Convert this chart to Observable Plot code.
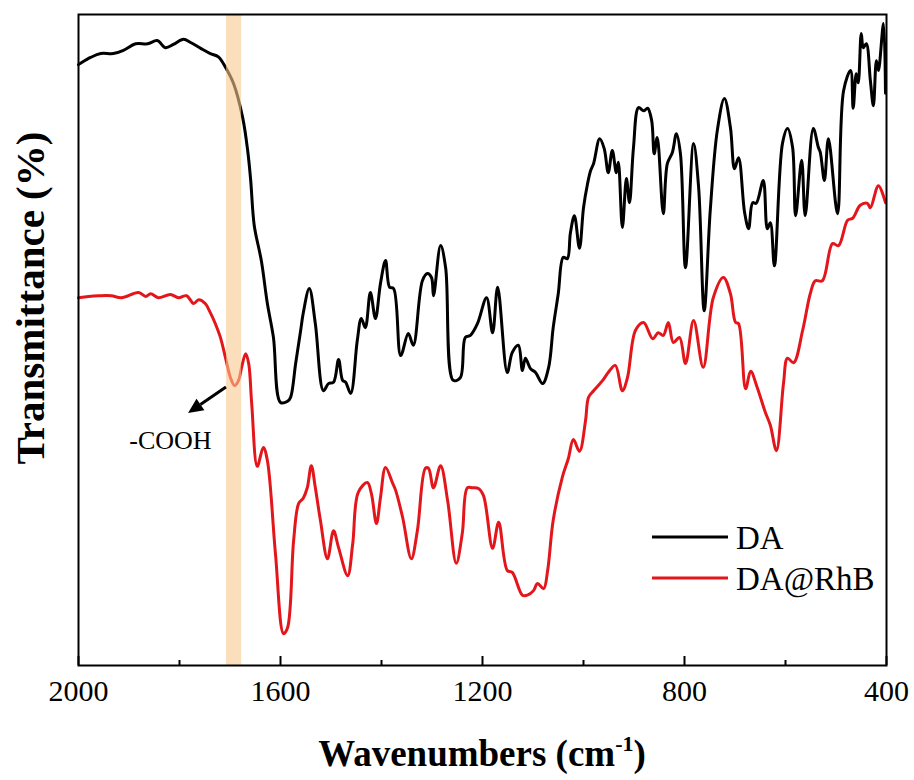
<!DOCTYPE html>
<html><head><meta charset="utf-8">
<script src="https://cdn.jsdelivr.net/npm/d3@7"></script>
<script src="https://cdn.jsdelivr.net/npm/@observablehq/plot@0.6"></script>
<style>
body{margin:0;background:#fff;}
#wrap{width:914px;height:780px;}
</style></head><body><div id="wrap"></div>
<script>
// ---- data ----
const seriesNames = ["DA", "DA@RhB"];
const seriesColors = ["#000000", "#e3161b"];

const daWavenumber = [2000,1996,1976,1956,1931,1911,1887,1863,1844,1828,1812,1792,1778,1758,1739,1723,1709,1693,1675,1665,1659,1652,1638,1626,1614,1600,1586,1580,1570,1560,1555,1543,1531,1515,1505,1495,1485,1477,1471,1461,1448,1440,1432,1422,1412,1402,1392,1384,1376,1362,1347,1337,1319,1309,1301,1297,1283,1273,1258,1244,1234,1224,1210,1192,1180,1170,1151,1141,1129,1121,1115,1105,1095,1081,1069,1060,1050,1040,1032,1026,1018,1008,1000,992,986,980,968,959,951,943,935,931,923,915,909,901,891,881,873,865,860,854,842,834,824,816,808,798,782,772,761,749,735,721,709,701,693,681,673,665,658,644,636,630,622,606,596,586,580,568,561,545,535,531,523,515,497,485,471,466,460,456,450,446,440,432,426,420,416,406,402];
const daTransmittance = [92.3,92.5,93.4,94.0,94.0,94.5,95.5,95.5,96.0,94.9,95.4,96.2,95.7,94.8,94.0,93.5,91.9,89.4,84.2,79.1,74.5,67.6,62.2,55.6,50.4,40.4,40.6,41.2,46.4,51.5,54.1,57.9,52.5,42.2,43.3,43.5,47.0,43.8,43.5,41.8,49.9,53.3,51.9,57.3,53.3,58.7,62.2,58.1,57.9,47.6,51.0,49.2,59.1,60.2,59.6,56.8,64.5,61.1,43.8,44.2,50.4,50.7,52.5,56.5,51.1,58.1,45.0,48.1,49.2,45.3,47.2,45.6,45.0,43.3,45.8,51.9,57.1,62.7,62.5,66.4,69.1,64.1,70.3,74.0,76.0,77.1,80.9,79.4,75.7,79.1,75.7,77.3,67.3,74.8,71.1,79.6,85.7,85.2,85.6,83.7,78.6,81.1,69.4,77.1,78.8,81.7,78.6,61.1,80.2,73.4,54.5,69.9,82.2,87.1,82.6,76.3,78.0,69.6,67.1,71.1,71.0,74.5,67.1,68.0,61.4,80.2,82.5,79.6,69.1,77.6,69.1,82.5,79.6,78.8,74.5,80.9,69.4,88.3,91.4,85.6,90.9,89.5,97.1,94.9,95.5,89.9,86.0,92.9,91.4,98.6,87.9];

const rhbWavenumber = [2000,1980,1960,1935,1915,1881,1867,1857,1842,1818,1802,1786,1772,1762,1749,1739,1729,1719,1709,1699,1691,1683,1677,1669,1663,1657,1646,1634,1626,1610,1594,1586,1574,1564,1555,1547,1539,1531,1521,1507,1495,1485,1467,1457,1446,1428,1420,1410,1402,1392,1378,1372,1358,1341,1329,1313,1307,1297,1283,1269,1252,1240,1230,1220,1208,1198,1180,1168,1151,1141,1121,1111,1099,1091,1079,1071,1060,1042,1030,1020,1008,996,990,980,962,951,937,923,913,897,881,863,852,842,832,822,810,798,782,763,743,723,709,699,693,679,669,656,640,630,618,604,596,584,566,551,541,527,507,495,477,467,452,438,432,416,402];
const rhbTransmittance = [56.5,56.7,56.8,56.8,56.5,57.3,56.7,57.1,56.5,57.0,56.5,56.8,55.6,56.2,55.6,54.2,52.5,50.4,47.3,44.2,43.0,43.8,45.8,47.9,46.4,40.2,30.6,33.5,31.5,17.2,4.9,5.8,19.2,24.9,25.7,27.3,30.7,27.3,22.3,16.4,20.7,18.1,13.8,18.7,26.6,28.1,26.4,21.8,25.8,30.4,28.0,26.9,22.7,16.4,20.7,30.3,30.3,27.3,30.7,25.3,15.7,20.3,27.3,27.3,27.2,26.1,18.0,22.0,14.6,14.3,10.8,10.8,11.5,12.6,11.8,14.6,22.3,28.9,31.8,34.7,32.9,37.6,41.2,42.2,43.8,45.0,46.1,42.2,44.2,51.5,52.7,50.2,51.1,50.7,52.7,49.6,50.4,46.4,53.0,45.8,56.5,59.6,57.1,52.7,52.5,42.5,45.2,42.7,38.9,36.9,33.0,43.3,47.2,46.5,51.5,57.1,59.1,59.1,64.8,64.5,68.4,68.7,70.7,71.0,70.3,73.7,71.1];

const majorTicks = [2000, 1600, 1200, 800, 400];
const minorTicks = [1800, 1400, 1000, 600];
const bandRange = [1707, 1677];           // highlighted -COOH band (cm-1)
const arrowFrom = [1707, 42.7];           // [wavenumber, transmittance]
const arrowTo = [1782, 38.7];
const annotLabel = "-COOH";
const annotPos = [1818, 34.6];
const xTitle = ["Wavenumbers (cm", "-1", ")"];
const yTitle = "Transmittance (%)";

// ---- build tables ----
const rows = [
  ...daWavenumber.map((w, i) => ({series: seriesNames[0], wn: w, t: daTransmittance[i]})),
  ...rhbWavenumber.map((w, i) => ({series: seriesNames[1], wn: w, t: rhbTransmittance[i]}))
];
const serif = "Liberation Serif, Times New Roman, serif";

const chart = Plot.plot({
  width: 914, height: 780,
  marginLeft: 78, marginRight: 28, marginTop: 14, marginBottom: 115,
  style: {fontFamily: serif, color: "#000", background: "#fff", overflow: "visible"},
  x: {domain: [2000, 400], label: null},
  y: {domain: [0, 100], axis: null},
  color: {domain: seriesNames, range: seriesColors},
  marks: [
    Plot.lineY(rows, {x: "wn", y: "t", z: "series", stroke: "series", strokeWidth: 3, curve: "catmull-rom"}),
    Plot.rect([{a: bandRange[0], b: bandRange[1]}], {x1: "a", x2: "b", fill: "#f9c98f", fillOpacity: 0.6}),
    Plot.text([{x: annotPos[0], y: annotPos[1], s: annotLabel}], {x: "x", y: "y", text: "s", fontSize: 26, fill: "#000", fontFamily: serif}),
    Plot.frame({stroke: "#000", strokeWidth: 2}),
    Plot.axisX({ticks: majorTicks, tickSize: -9, tickPadding: 23, strokeWidth: 2, fontSize: 30, fontFamily: serif, tickFormat: d => String(d), label: null}),
    Plot.axisX({ticks: minorTicks, tickSize: -5, tickPadding: 0, strokeWidth: 2, tickFormat: () => "", label: null})
  ]
});
document.getElementById("wrap").appendChild(chart);

const svg = d3.select(chart);
const sx = chart.scale("x"), sy = chart.scale("y");

// annotation arrow (positions from the plot's own scales)
const p1 = [sx.apply(arrowFrom[0]), sy.apply(arrowFrom[1])];
const p2 = [sx.apply(arrowTo[0]), sy.apply(arrowTo[1])];
const ang = Math.atan2(p2[1] - p1[1], p2[0] - p1[0]);
const headL = 15, headW = 7;
const base = [p2[0] - headL * Math.cos(ang), p2[1] - headL * Math.sin(ang)];
svg.append("line").attr("x1", p1[0]).attr("y1", p1[1]).attr("x2", base[0]).attr("y2", base[1])
  .attr("stroke", "#000").attr("stroke-width", 3);
svg.append("polygon").attr("fill", "#000").attr("points", [
  p2,
  [base[0] + headW * Math.sin(ang), base[1] - headW * Math.cos(ang)],
  [base[0] - headW * Math.sin(ang), base[1] + headW * Math.cos(ang)]
].map(p => p.join(",")).join(" "));

// y-axis title
svg.append("text")
  .attr("transform", `translate(30,298) rotate(-90)`)
  .attr("text-anchor", "middle").attr("dominant-baseline", "central")
  .attr("font-family", serif).attr("font-weight", "bold").attr("font-size", 41).attr("fill", "#000")
  .text(yTitle);

// x-axis title with superscript
const t = svg.append("text")
  .attr("x", (sx.apply(2000) + sx.apply(400)) / 2).attr("y", 766)
  .attr("text-anchor", "middle")
  .attr("font-family", serif).attr("font-weight", "bold").attr("font-size", 37).attr("fill", "#000");
t.append("tspan").text(xTitle[0]);
t.append("tspan").attr("dy", -15).attr("font-size", 22).text(xTitle[1]);
t.append("tspan").attr("dy", 15).text(xTitle[2]);

// legend
const lg = svg.append("g");
seriesNames.forEach((name, i) => {
  const yy = 537 + i * 41;
  lg.append("line").attr("x1", 652).attr("x2", 728).attr("y1", yy).attr("y2", yy)
    .attr("stroke", seriesColors[i]).attr("stroke-width", 3);
  lg.append("text").attr("x", 736).attr("y", yy + 12).attr("text-anchor", "start")
    .attr("font-family", serif).attr("font-size", 33).attr("fill", "#000").text(name);
});
</script>
</body></html>
